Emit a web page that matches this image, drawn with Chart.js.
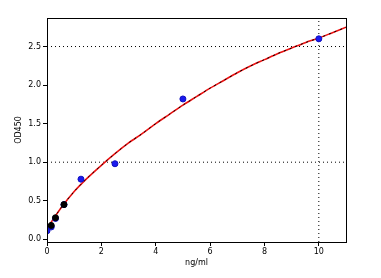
<!DOCTYPE html>
<html>
<head>
<meta charset="utf-8">
<script src="https://cdn.jsdelivr.net/npm/chart.js@4/dist/chart.umd.min.js"></script>
<style>
  html, body { margin: 0; padding: 0; background: #fff; }
  #wrap { width: 381px; height: 278px; }
</style>
</head>
<body>
<div id="wrap"><canvas id="chartCurve"></canvas></div>
<script>
// measured standards
const standardConc = [0, 0.156, 0.3125, 0.625, 1.25, 2.5, 5, 10];
const standardOD = [0.11, 0.16, 0.27, 0.45, 0.78, 0.98, 1.82, 2.60];

// second replicate (black), only visible at the low end
const repConc = [0.156, 0.3125, 0.625];
const repOD = [0.18, 0.28, 0.45];

// fitted curve
const curveConc = [0, 0.5, 1, 1.5, 2, 2.5, 3, 3.5, 4, 4.5, 5, 5.5, 6, 6.5, 7, 7.5, 8, 8.5, 9, 9.5, 10, 10.5, 11];
const curveOD = [0.14, 0.40, 0.62, 0.80, 0.96, 1.11, 1.25, 1.37, 1.50, 1.62, 1.74, 1.85, 1.96, 2.06, 2.16, 2.25, 2.33, 2.41, 2.48, 2.55, 2.61, 2.68, 2.75];

// dotted guide lines
const guideY = [1.0, 2.5];
const guideX = [10];

const xTicks = [0, 2, 4, 6, 8, 10];
const yTicks = [0.0, 0.5, 1.0, 1.5, 2.0, 2.5];

const xMin = 0, xMax = 11;
const yMin = -0.035, yMax = 2.87;

const tickFont = { family: 'DejaVu Sans', size: 8 };

const curvePts = curveConc.map((x, i) => ({ x: x, y: curveOD[i] }));

const guideSets = [];
guideY.forEach(v => guideSets.push({
    type: 'line',
    data: [{ x: xMin, y: v }, { x: xMax, y: v }],
    borderColor: '#000',
    borderWidth: 1,
    borderDash: [1, 3],
    pointRadius: 0,
    order: 5,
}));
guideX.forEach(v => guideSets.push({
    type: 'line',
    data: [{ x: v, y: yMin }, { x: v, y: yMax }],
    borderColor: '#000',
    borderWidth: 1,
    borderDash: [1, 3],
    pointRadius: 0,
    order: 5,
}));

const frame = {
    id: 'frame',
    afterDatasetsDraw(chart) {
        const a = chart.chartArea;
        const c = chart.ctx;
        c.save();
        c.strokeStyle = '#000';
        c.lineWidth = 1;
        c.strokeRect(a.left + 0.5, a.top + 0.5, a.right - a.left, a.bottom - a.top);
        c.restore();
    }
};

const ctx = document.getElementById("chartCurve").getContext('2d');
new Chart(ctx, {
    type: 'scatter',
    data: {
        datasets: [
            ...guideSets,
            {
                type: 'line',
                data: curvePts,
                borderColor: '#ee1111',
                borderWidth: 1.6,
                pointRadius: 0,
                tension: 0.3,
                order: 4,
            },
            {
                type: 'line',
                data: curvePts,
                borderColor: '#000',
                borderWidth: 1,
                borderDash: [2, 4],
                pointRadius: 0,
                tension: 0.3,
                order: 3,
            },
            {
                data: standardConc.map((x, i) => ({ x: x, y: standardOD[i] })),
                pointRadius: 3,
                backgroundColor: '#1a1aee',
                borderColor: '#1010c0',
                borderWidth: 1,
                order: 2,
            },
            {
                data: repConc.map((x, i) => ({ x: x, y: repOD[i] })),
                pointRadius: 3,
                backgroundColor: '#000',
                borderColor: '#000',
                borderWidth: 1,
                order: 1,
            }
        ]
    },
    options: {
        responsive: true,
        maintainAspectRatio: false,
        animation: false,
        layout: { padding: { left: 14, top: 18, right: 35, bottom: 10 } },
        scales: {
            x: {
                type: 'linear',
                min: xMin,
                max: xMax,
                afterBuildTicks: s => { s.ticks = xTicks.map(v => ({ value: v })); },
                afterFit: s => { s.height = 26; },
                grid: { drawOnChartArea: false, tickLength: 4, color: '#000' },
                border: { display: false },
                ticks: { color: '#000', font: tickFont, padding: 1, maxRotation: 0 },
                title: { display: true, text: 'ng/ml', color: '#000', font: tickFont, padding: { top: 1, bottom: 0 } }
            },
            y: {
                type: 'linear',
                min: yMin,
                max: yMax,
                afterBuildTicks: s => { s.ticks = yTicks.map(v => ({ value: v })); },
                afterFit: s => { s.width = 33; },
                grid: { drawOnChartArea: false, tickLength: 4, color: '#000' },
                border: { display: false },
                ticks: { color: '#000', font: tickFont, padding: 2, callback: v => v.toFixed(1) },
                title: { display: true, text: 'OD450', color: '#000', font: tickFont, padding: { top: 0, bottom: 0 } }
            }
        },
        plugins: {
            legend: { display: false },
            tooltip: { enabled: false }
        }
    },
    plugins: [frame]
});
</script>
</body>
</html>
